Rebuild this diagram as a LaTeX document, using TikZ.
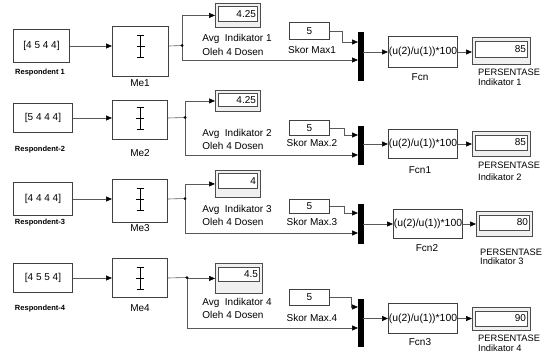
\documentclass[tikz,border=0pt]{standalone}
\usepackage{fontspec}
\setmainfont{Liberation Sans}
\usetikzlibrary{arrows.meta,calc}
\begin{document}
\begin{tikzpicture}[x=1pt,y=-1pt,
  every node/.style={font=\fontsize{10pt}{11.5pt}\selectfont},
  blk/.style={draw=black!75,line width=1pt,fill=white,rectangle,inner sep=0pt,anchor=north west},
  fcn/.style={blk,font=\fontsize{10.4pt}{12pt}\selectfont},
  muxbar/.style={draw=black,fill=black,rectangle,inner sep=0pt,anchor=north west,minimum width=5pt},
  dispout/.style={draw=black!70,line width=0.9pt,fill=gray!12,rectangle,inner sep=0pt,anchor=north west},
  dispin/.style={draw=black!70,line width=0.6pt,fill=white,rectangle,inner sep=1.5pt,align=right,anchor=north},
  lbl/.style={inner sep=0pt},
  plbl/.style={inner sep=0pt,anchor=west,font=\fontsize{9.3pt}{11pt}\selectfont},
  rlbl/.style={inner sep=0pt,font=\bfseries\fontsize{7.5pt}{9pt}\selectfont},
  sig/.style={draw=black!65,line width=0.6pt,-{Triangle[length=6pt,width=5pt,color=black]}},
  wire/.style={draw=black!65,line width=0.6pt},
  dot/.style={circle,fill=black,inner sep=0pt,minimum size=3pt},
  icon/.style={line width=0.8pt,black}
]
\useasboundingbox[fill=white] (0,0) rectangle (544,356);

% ================= Row 1 =================
\node[blk,minimum width=56pt,minimum height=33pt] (C1) at (13,29) {[4 5 4 4]};
\node[rlbl] (C1l) at (40,73) {Respondent 1};
\node[blk,minimum width=56pt,minimum height=50pt] (Me1) at (112,26) {};
\node[lbl] (Me1l) at (140,83) {Me1};
\node[dispout,minimum width=45pt,minimum height=24pt] (D1) at (215,3) {};
\node[dispin,text width=36pt,minimum height=15pt] (D1i) at ($(D1.north)+(0,3)$) {4.25};
\node[lbl] (D1a) at (237,39) {Avg~~Indikator 1};
\node[lbl] (D1b) at (233,52) {Oleh 4 Dosen};
\node[blk,minimum width=40pt,minimum height=17pt] (S1) at (289,22) {5};
\node[lbl] (S1l) at (312,50) {Skor Max1};
\node[muxbar,minimum height=48pt] (M1) at (358,32) {};
\node[fcn,minimum width=69pt,minimum height=31pt] (F1) at (388,36) {(u(2)/u(1))*100};
\node[lbl] (F1l) at (420,77) {Fcn};
\node[dispout,minimum width=58pt,minimum height=27pt] (P1) at (472,37) {};
\node[dispin,text width=49pt,minimum height=16pt] (P1i) at ($(P1.north)+(0,3.5)$) {85};
\node[plbl] (P1a) at (478,72) {PERSENTASE};
\node[plbl] (P1b) at (478,82) {Indikator 1};
\coordinate (B1) at (182,45.5);
\coordinate (K1) at (342,42);
\coordinate (M1a) at (358,42);
\coordinate (M1b) at (358,60);

% ================= Row 2 =================
\node[blk,minimum width=59pt,minimum height=29pt] (C2) at (13,103) {[5 4 4 4]};
\node[rlbl] (C2l) at (40,150) {Respondent-2};
\node[blk,minimum width=55pt,minimum height=39pt] (Me2) at (112,100) {};
\node[lbl] (Me2l) at (140,153) {Me2};
\node[dispout,minimum width=45pt,minimum height=21pt] (D2) at (215,90) {};
\node[dispin,text width=36pt,minimum height=13pt] (D2i) at ($(D2.north)+(0,3)$) {4.25};
\node[lbl] (D2a) at (237,134) {Avg~~Indikator 2};
\node[lbl] (D2b) at (233,146) {Oleh 4 Dosen};
\node[blk,minimum width=40pt,minimum height=15pt] (S2) at (289,120) {5};
\node[lbl] (S2l) at (312,143) {Skor Max.2};
\node[muxbar,minimum height=38pt] (M2) at (358,126) {};
\node[fcn,minimum width=69pt,minimum height=29pt] (F2) at (388,129) {(u(2)/u(1))*100};
\node[lbl] (F2l) at (420,170) {Fcn1};
\node[dispout,minimum width=58pt,minimum height=25pt] (P2) at (472,131) {};
\node[dispin,text width=49pt,minimum height=15pt] (P2i) at ($(P2.north)+(0,3.5)$) {85};
\node[plbl] (P2a) at (478,165) {PERSENTASE};
\node[plbl] (P2b) at (478,177) {Indikator 2};
\coordinate (B2) at (185,117.5);
\coordinate (K2) at (344,135);
\coordinate (M2a) at (358,135);
\coordinate (M2b) at (358,155);

% ================= Row 3 =================
\node[blk,minimum width=59pt,minimum height=33pt] (C3) at (13,182) {[4 4 4 4]};
\node[rlbl] (C3l) at (40,223) {Respondent-3};
\node[blk,minimum width=55pt,minimum height=43pt] (Me3) at (112,179) {};
\node[lbl] (Me3l) at (140,228) {Me3};
\node[dispout,minimum width=45pt,minimum height=27pt] (D3) at (215,170) {};
\node[dispin,text width=36pt,minimum height=15pt] (D3i) at ($(D3.north)+(0,3)$) {4};
\node[lbl] (D3a) at (237,210) {Avg~~Indikator 3};
\node[lbl] (D3b) at (233,222) {Oleh 4 Dosen};
\node[blk,minimum width=40pt,minimum height=14pt] (S3) at (289,199) {5};
\node[lbl] (S3l) at (312,222) {Skor Max.3};
\node[muxbar,minimum height=39pt] (M3) at (358,204) {};
\node[fcn,minimum width=69pt,minimum height=29pt] (F3) at (393,209) {(u(2)/u(1))*100};
\node[lbl] (F3l) at (427,248) {Fcn2};
\node[dispout,minimum width=56pt,minimum height=25pt] (P3) at (476,211) {};
\node[dispin,text width=47pt,minimum height=15pt] (P3i) at ($(P3.north)+(0,3.5)$) {80};
\node[plbl] (P3a) at (480,252) {PERSENTASE};
\node[plbl] (P3b) at (480,261) {Indikator 3};
\coordinate (B3) at (185,198.5);
\coordinate (K3) at (344,213);
\coordinate (M3a) at (358,213);
\coordinate (M3b) at (358,233);

% ================= Row 4 =================
\node[blk,minimum width=59pt,minimum height=29pt] (C4) at (13,263) {[4 5 5 4]};
\node[rlbl] (C4l) at (40,309) {Respondent-4};
\node[blk,minimum width=55pt,minimum height=39pt] (Me4) at (112,258) {};
\node[lbl] (Me4l) at (140,308) {Me4};
\node[dispout,minimum width=47pt,minimum height=30pt] (D4) at (215,263) {};
\node[dispin,text width=38pt,minimum height=14pt] (D4i) at ($(D4.north)+(0,4)$) {4.5};
\node[lbl] (D4a) at (237,303) {Avg~~Indikator 4};
\node[lbl] (D4b) at (233,315) {Oleh 4 Dosen};
\node[blk,minimum width=40pt,minimum height=16pt] (S4) at (289,289) {5};
\node[lbl] (S4l) at (312,318) {Skor Max.4};
\node[muxbar,minimum height=47pt] (M4) at (358,299) {};
\node[fcn,minimum width=69pt,minimum height=30pt] (F4) at (388,303) {(u(2)/u(1))*100};
\node[lbl] (F4l) at (420,342) {Fcn3};
\node[dispout,minimum width=58pt,minimum height=23pt] (P4) at (472,307) {};
\node[dispin,text width=49pt,minimum height=15pt] (P4i) at ($(P4.north)+(0,3.5)$) {90};
\node[plbl] (P4a) at (478,338) {PERSENTASE};
\node[plbl] (P4b) at (478,348) {Indikator 4};
\coordinate (B4) at (187,277.5);
\coordinate (K4) at (351,307);
\coordinate (M4a) at (358,307);
\coordinate (M4b) at (358,328);

% ================= Mean icons =================
\foreach \m/\c in {Me1/C1,Me2/C2,Me3/C3,Me4/C4}{
  \coordinate (\m ic) at (\m.center |- \c.east);
  \draw[icon] ($(\m ic)+(0,-11)$) -- ($(\m ic)+(0,11)$);
  \draw[icon] ($(\m ic)+(-3.5,-11)$) -- ($(\m ic)+(3.5,-11)$);
  \draw[icon] ($(\m ic)+(-3.5,11)$) -- ($(\m ic)+(3.5,11)$);
  \draw[line width=1.8pt,black] ($(\m ic)+(-4,0.5)$) -- ($(\m ic)+(4,0.5)$);
}

% ================= Connectors =================
\foreach \i in {1,2,3,4}{
  \draw[sig] (C\i.east) -- (Me\i.west |- C\i.east);
  \draw[wire] (Me\i.east |- C\i.east) -- (B\i);
  \draw[sig] (B\i) |- (D\i.west);
  \draw[sig] (B\i) |- (M\i b);
  \node[dot] (dot\i) at (B\i) {};
  \draw[sig] (S\i.east) -| (K\i) -- (M\i a);
  \draw[sig] (M\i.east |- F\i.west) -- (F\i.west);
  \draw[sig] (F\i.east) -- (P\i.west |- F\i.east);
}
\end{tikzpicture}
\end{document}
